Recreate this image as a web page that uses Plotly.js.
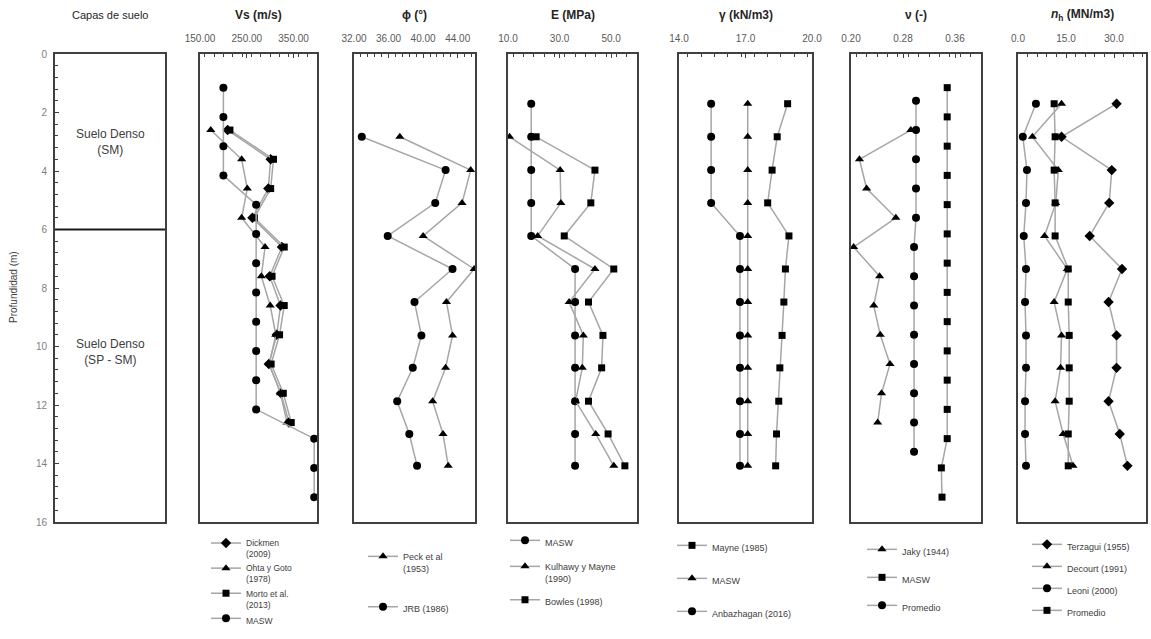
<!DOCTYPE html>
<html><head><meta charset="utf-8">
<script src="https://cdn.plot.ly/plotly-3.0.1.min.js"></script>
<style>html,body{margin:0;padding:0;background:#fff}#chart{width:1151px;height:639px}</style>
</head><body><div id="chart"></div>
<script>
// ---------- depths (m) ----------
const depthMASW = [1.15, 2.15, 3.15, 4.15, 5.15, 6.15, 7.15, 8.15, 9.15, 10.15, 11.15, 12.15, 13.15, 14.15, 15.15];
const depthCorr = [2.6, 3.6, 4.6, 5.6, 6.6, 7.6, 8.6, 9.6, 10.6, 11.6, 12.6];
const depthProm = [1.6, 2.6, 3.6, 4.6, 5.6, 6.6, 7.6, 8.6, 9.6, 10.6, 11.6, 12.6, 13.6];
const depthSPT  = [1.7, 2.83, 3.97, 5.09, 6.22, 7.35, 8.48, 9.62, 10.73, 11.87, 12.99, 14.08];
const depthSPT2 = [2.83, 3.97, 5.09, 6.22, 7.35, 8.48, 9.62, 10.73, 11.87, 12.99, 14.08];

// ---------- Vs (m/s) ----------
const vsDickmen = [209, 301, 296, 262, 325, 299, 322, 314, 297, 323, 340];
const vsOhta    = [173, 239, 251, 239, 289, 281, 300, 312, 298, 322, 336];
const vsMorto   = [214, 307, 301, 266, 330, 304, 330, 320, 302, 328, 345];
const vsMASW    = [200, 200, 200, 200, 270, 270, 270, 270, 270, 270, 270, 270, 394, 394, 394];

// ---------- phi (deg) ----------
const phiPeck = [37.3, 45.5, 44.5, 40.0, 45.9, 42.7, 43.4, 42.6, 41.1, 42.3, 42.9];
const phiJRB  = [32.9, 42.6, 41.4, 35.9, 43.4, 39.0, 39.8, 38.8, 37.0, 38.4, 39.3];

// ---------- E (MPa) ----------
const eMASW    = [19, 19, 19, 19, 19, 36, 36, 36, 36, 36, 36, 36];
const eKulhawy = [10.6, 30.2, 30.5, 21.5, 43.7, 33.7, 39.2, 38.8, 36.2, 44.0, 51.0];
const eBowles  = [20.9, 43.7, 42.1, 31.8, 51.0, 41.2, 46.8, 46.3, 41.2, 48.8, 55.3];

// ---------- gamma (kN/m3) ----------
const gMayne = [18.9, 18.43, 18.2, 18.0, 18.96, 18.8, 18.73, 18.65, 18.55, 18.5, 18.4, 18.36];
const gMASW  = [17.1, 17.1, 17.1, 17.1, 17.1, 17.1, 17.1, 17.1, 17.1, 17.1, 17.1, 17.1];
const gAnb   = [15.45, 15.45, 15.45, 15.45, 16.75, 16.75, 16.75, 16.75, 16.75, 16.75, 16.75, 16.75];

// ---------- nu (-) ----------
const nuJaky = [0.292, 0.213, 0.224, 0.269, 0.204, 0.244, 0.235, 0.245, 0.260, 0.247, 0.241];
const nuMASW = [0.348, 0.348, 0.348, 0.348, 0.348, 0.348, 0.348, 0.348, 0.348, 0.348, 0.348, 0.348, 0.348, 0.339, 0.340];
const nuProm = [0.300, 0.300, 0.300, 0.300, 0.300, 0.297, 0.297, 0.297, 0.297, 0.297, 0.297, 0.297, 0.297];

// ---------- nh (MN/m3) ----------
const nhTerz  = [30.8, 13.6, 29.3, 28.5, 22.4, 32.5, 28.3, 30.8, 30.8, 28.3, 31.8, 34.2];
const nhDec   = [13.6, 4.5, 12.6, 11.8, 8.3, 15.4, 11.3, 13.6, 13.3, 11.6, 14.1, 17.2];
const nhLeoni = [5.6, 1.5, 2.8, 2.5, 1.8, 2.5, 2.2, 2.5, 2.5, 2.2, 2.2, 2.5];
const nhProm  = [11.3, 11.6, 11.3, 11.6, 11.6, 15.7, 15.7, 16.0, 16.0, 16.0, 15.7, 15.7];

// ---------- labels ----------
const panelTitles = ['Capas de suelo', '<b>Vs (m/s)</b>', '<b>ϕ (°)</b>', '<b>E (MPa)</b>', '<b>γ (kN/m3)</b>', '<b>ν (-)</b>', '<b><i>n</i><sub>h</sub> (MN/m3)</b>'];
const layerLabels = ['Suelo Denso<br>(SM)', 'Suelo Denso<br>(SP - SM)'];
const depthTitle = 'Profundidad (m)';

// ---------- layout helpers ----------
const W = 1151, H = 639;
const FONT = 'Liberation Sans, Arial, sans-serif';
const boxes = [[55,165],[200,317],[354,475],[508,637],[679,812],[851,981],[1018,1146]];
const boxTop = 54, boxBot = 522;
const fx = p => p / W, fy = p => 1 - p / H;
const LINEC = '#404040', SERIESC = '#a6a6a6', TICKC = '#595959';

const axisCfg = [
  null,
  {range:[150,400], dtick:100, tick0:150, fmt:'.2f', minor:20},
  {range:[32,46], dtick:4, tick0:32, fmt:'.2f', minor:0.8},
  {range:[10,60], dtick:20, tick0:10, fmt:'.1f', minor:4},
  {range:[14,20], dtick:3, tick0:14, fmt:'.1f', minor:0.6},
  {range:[0.20,0.40], dtick:0.08, tick0:0.20, fmt:'.2f', minor:0.016},
  {range:[0,40], dtick:15, tick0:0, fmt:'.1f', minor:3}
];

const layout = {
  width: W, height: H,
  margin: {l:0, r:0, t:0, b:0},
  paper_bgcolor: '#fff', plot_bgcolor: '#fff',
  font: {family: FONT, size: 10, color: TICKC},
  showlegend: true,
  annotations: [], shapes: []
};

boxes.forEach((b, i) => {
  const n = i === 0 ? '' : String(i + 1);
  const xa = 'xaxis' + n, ya = 'yaxis' + n;
  const xid = 'x' + n, yid = 'y' + n;
  const c = axisCfg[i];
  layout[xa] = {
    domain: [fx(b[0]), fx(b[1])], anchor: yid, side: 'top',
    showline: true, mirror: true, linecolor: LINEC, linewidth: 2,
    showgrid: false, zeroline: false, fixedrange: true
  };
  if (c) {
    Object.assign(layout[xa], {
      range: c.range, tickmode: 'linear', tick0: c.tick0, dtick: c.dtick, tickformat: c.fmt,
      ticks: 'inside', ticklen: 4, tickcolor: LINEC, ticklabelstandoff: 6,
      tickfont: {family: FONT, size: 10, color: TICKC},
      minor: {dtick: c.minor, ticks: 'inside', ticklen: 3, tickcolor: LINEC, showgrid: false}
    });
  } else {
    Object.assign(layout[xa], {range: [0, 1], showticklabels: false, ticks: ''});
  }
  layout[ya] = {
    domain: [fy(boxBot), fy(boxTop)], anchor: xid, range: [16, 0],
    showline: true, mirror: true, linecolor: LINEC, linewidth: 2,
    showgrid: false, zeroline: false, fixedrange: true
  };
  if (i === 0) {
    Object.assign(layout[ya], {
      tickmode: 'linear', tick0: 0, dtick: 2, ticks: 'inside', ticklen: 4, tickcolor: LINEC,
      ticklabelstandoff: 4, tickfont: {family: FONT, size: 10, color: '#7f7f7f'},
      minor: {dtick: 0.4, ticks: 'inside', ticklen: 3, tickcolor: LINEC, showgrid: false}
    });
  } else {
    Object.assign(layout[ya], {showticklabels: false, ticks: ''});
  }
  layout.annotations.push({
    xref: 'paper', yref: 'paper', x: fx((b[0] + b[1]) / 2), y: fy(15),
    xanchor: 'center', yanchor: 'middle', showarrow: false, text: panelTitles[i],
    font: {family: FONT, size: i === 0 ? 11 : 12, color: '#262626'}
  });
});

// depth axis title
layout.annotations.push({
  xref: 'paper', yref: 'paper', x: fx(13), y: fy(287), textangle: -90,
  xanchor: 'center', yanchor: 'middle', showarrow: false, text: depthTitle,
  font: {family: FONT, size: 10, color: '#404040'}
});
// soil layer labels
layout.annotations.push({xref:'x', yref:'y', x:0.5, y:3.0, showarrow:false, text:layerLabels[0],
  font:{family:FONT, size:12, color:'#404040'}});
layout.annotations.push({xref:'x', yref:'y', x:0.5, y:10.2, showarrow:false, text:layerLabels[1],
  font:{family:FONT, size:12, color:'#404040'}});
// layer boundary
layout.shapes.push({type:'line', xref:'x', yref:'y', x0:0, x1:1, y0:6, y1:6, line:{color:'#1a1a1a', width:2}});

// legends: [name, left px, top px, gap px, font size]
const legendPos = [
  ['legend',  206, 531, 0, 8.5],
  ['legend2', 363, 544, 24, 9],
  ['legend3', 505, 528, 7, 9],
  ['legend4', 672, 533, 14, 9],
  ['legend5', 862, 537, 9, 9],
  ['legend6', 1027, 532, 3, 9]
];
legendPos.forEach(l => {
  layout[l[0]] = {
    x: fx(l[1]), y: fy(l[2]), xanchor: 'left', yanchor: 'top', orientation: 'v',
    bgcolor: 'rgba(0,0,0,0)', borderwidth: 0, itemwidth: 30, valign: 'top',
    traceorder: 'grouped', tracegroupgap: l[3],
    font: {family: FONT, size: l[4], color: '#404040'}
  };
});

const sizes = {circle: 8, 'triangle-up': 8, square: 7, diamond: 8};
function tr(name, x, y, ax, sym, leg) {
  return {
    type: 'scatter', mode: 'lines+markers', name: name, x: x, y: y,
    xaxis: 'x' + ax, yaxis: 'y' + ax, legend: leg, legendgroup: name + leg,
    line: {color: SERIESC, width: 1.5},
    marker: {color: '#000', size: sizes[sym], symbol: sym},
    hoverinfo: 'x+y'
  };
}

const data = [
  tr('Dickmen<br>(2009)', vsDickmen, depthCorr, '2', 'diamond', 'legend'),
  tr('Ohta y Goto<br>(1978)', vsOhta, depthCorr, '2', 'triangle-up', 'legend'),
  tr('Morto et al.<br>(2013)', vsMorto, depthCorr, '2', 'square', 'legend'),
  tr('MASW', vsMASW, depthMASW, '2', 'circle', 'legend'),

  tr('Peck et al<br>(1953)', phiPeck, depthSPT2, '3', 'triangle-up', 'legend2'),
  tr('JRB (1986)', phiJRB, depthSPT2, '3', 'circle', 'legend2'),

  tr('MASW', eMASW, depthSPT, '4', 'circle', 'legend3'),
  tr('Kulhawy y Mayne<br>(1990)', eKulhawy, depthSPT2, '4', 'triangle-up', 'legend3'),
  tr('Bowles (1998)', eBowles, depthSPT2, '4', 'square', 'legend3'),

  tr('Mayne (1985)', gMayne, depthSPT, '5', 'square', 'legend4'),
  tr('MASW', gMASW, depthSPT, '5', 'triangle-up', 'legend4'),
  tr('Anbazhagan (2016)', gAnb, depthSPT, '5', 'circle', 'legend4'),

  tr('Jaky (1944)', nuJaky, depthCorr, '6', 'triangle-up', 'legend5'),
  tr('MASW', nuMASW, depthMASW, '6', 'square', 'legend5'),
  tr('Promedio', nuProm, depthProm, '6', 'circle', 'legend5'),

  tr('Terzagui (1955)', nhTerz, depthSPT, '7', 'diamond', 'legend6'),
  tr('Decourt (1991)', nhDec, depthSPT, '7', 'triangle-up', 'legend6'),
  tr('Leoni (2000)', nhLeoni, depthSPT, '7', 'circle', 'legend6'),
  tr('Promedio', nhProm, depthSPT, '7', 'square', 'legend6')
];

Plotly.newPlot('chart', data, layout, {staticPlot: true, displayModeBar: false});
</script></body></html>
